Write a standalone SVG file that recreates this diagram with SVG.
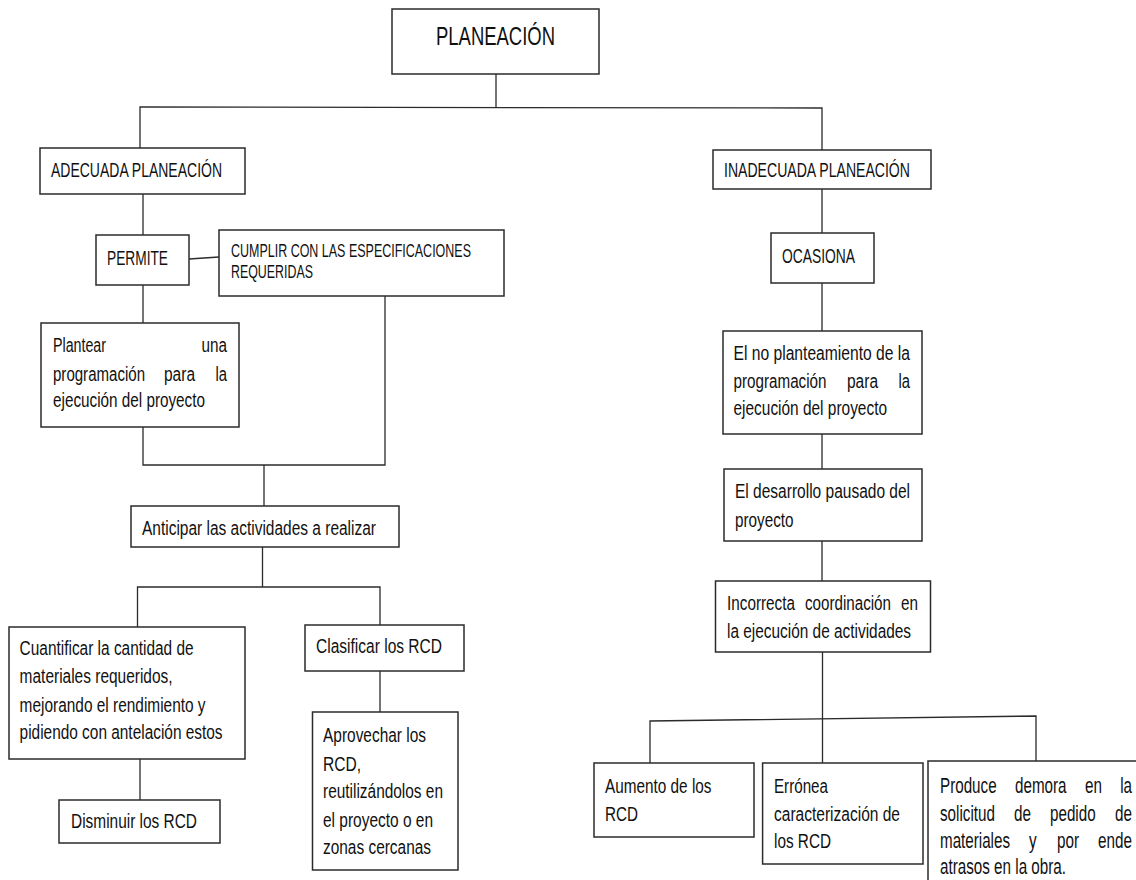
<svg xmlns="http://www.w3.org/2000/svg" width="1136" height="880" viewBox="0 0 1136 880">
<style>
.box{fill:#fff;stroke:#2b2b2b;stroke-width:1.5}
.c{fill:none;stroke:#2b2b2b;stroke-width:1.3}
text{font-family:"Liberation Sans",Arial,sans-serif;fill:#111}
.f18{font-size:18px}.f20{font-size:20px}.f21{font-size:21px}.f22{font-size:22px}.f25{font-size:25px}
</style>
<rect width="1136" height="880" fill="#fff"/>
<g id="connectors">
<path class="c" d="M496 74V108"/>
<path class="c" d="M140 148V107L822 108V150"/>
<path class="c" d="M143 194V235"/>
<path class="c" d="M189 259L219 257"/>
<path class="c" d="M143 285V323"/>
<path class="c" d="M143 427V465H385V296"/>
<path class="c" d="M264 465V506"/>
<path class="c" d="M262.5 547V587"/>
<path class="c" d="M137.5 627V587H380V625"/>
<path class="c" d="M140 759V800"/>
<path class="c" d="M380 671V712"/>
<path class="c" d="M822 189V233"/>
<path class="c" d="M822 283V331"/>
<path class="c" d="M822 434V469"/>
<path class="c" d="M822 541V581"/>
<path class="c" d="M822.5 652V763"/>
<path class="c" d="M650 763V721L1036 716V761"/>
</g>
<g id="planeacion">
<rect class="box" x="392" y="9" width="207" height="65"/>
<text class="f25" transform="translate(436 45) scale(.72 1)" textLength="165.3" lengthAdjust="spacingAndGlyphs">PLANEACIÓN</text>
</g>
<g id="adecuada">
<rect class="box" x="40" y="148" width="205" height="46"/>
<text class="f20" transform="translate(51 177) scale(.72 1)" textLength="237.5" lengthAdjust="spacingAndGlyphs">ADECUADA PLANEACIÓN</text>
</g>
<g id="permite">
<rect class="box" x="96" y="235" width="93" height="50"/>
<text class="f21" transform="translate(107 265) scale(.72 1)" textLength="84.7" lengthAdjust="spacingAndGlyphs">PERMITE</text>
</g>
<g id="cumplir">
<rect class="box" x="219" y="230" width="285" height="66"/>
<text class="f18" transform="translate(231 257) scale(.72 1)" textLength="333.3" lengthAdjust="spacingAndGlyphs">CUMPLIR CON LAS ESPECIFICACIONES</text>
<text class="f18" transform="translate(231 278) scale(.72 1)" textLength="113.9" lengthAdjust="spacingAndGlyphs">REQUERIDAS</text>
</g>
<g id="plantear">
<rect class="box" x="41" y="323" width="198" height="104"/>
<text class="f21" transform="translate(53 352) scale(.72 1)" textLength="73.6" lengthAdjust="spacingAndGlyphs">Plantear</text>
<text class="f21" transform="translate(201.5 352) scale(.72 1)" textLength="35.4" lengthAdjust="spacingAndGlyphs">una</text>
<text class="f21" transform="translate(53 381) scale(.72 1)" textLength="127.8" lengthAdjust="spacingAndGlyphs">programación</text>
<text class="f21" transform="translate(164 381) scale(.72 1)" textLength="43.1" lengthAdjust="spacingAndGlyphs">para</text>
<text class="f21" transform="translate(215.5 381) scale(.72 1)" textLength="16" lengthAdjust="spacingAndGlyphs">la</text>
<text class="f21" transform="translate(53 407) scale(.72 1)" textLength="211.1" lengthAdjust="spacingAndGlyphs">ejecución del proyecto</text>
</g>
<g id="anticipar">
<rect class="box" x="131" y="506" width="268" height="41"/>
<text class="f21" transform="translate(142 535) scale(.72 1)" textLength="325" lengthAdjust="spacingAndGlyphs">Anticipar las actividades a realizar</text>
</g>
<g id="cuantificar">
<rect class="box" x="9" y="627" width="236" height="132"/>
<text class="f21" transform="translate(19.6 655) scale(.72 1)" textLength="241.7" lengthAdjust="spacingAndGlyphs">Cuantificar la cantidad de</text>
<text class="f21" transform="translate(19.6 683) scale(.72 1)" textLength="212.5" lengthAdjust="spacingAndGlyphs">materiales requeridos,</text>
<text class="f21" transform="translate(19.6 712) scale(.72 1)" textLength="258.3" lengthAdjust="spacingAndGlyphs">mejorando el rendimiento y</text>
<text class="f21" transform="translate(19.6 739) scale(.72 1)" textLength="281.9" lengthAdjust="spacingAndGlyphs">pidiendo con antelación estos</text>
</g>
<g id="disminuir">
<rect class="box" x="59" y="800" width="161" height="43"/>
<text class="f21" transform="translate(71 828) scale(.72 1)" textLength="175" lengthAdjust="spacingAndGlyphs">Disminuir los RCD</text>
</g>
<g id="clasificar">
<rect class="box" x="305" y="625" width="159" height="46"/>
<text class="f21" transform="translate(316 653) scale(.72 1)" textLength="175" lengthAdjust="spacingAndGlyphs">Clasificar los RCD</text>
</g>
<g id="aprovechar">
<rect class="box" x="312.5" y="712" width="145.5" height="158"/>
<text class="f21" transform="translate(323 742) scale(.72 1)" textLength="143.1" lengthAdjust="spacingAndGlyphs">Aprovechar los</text>
<text class="f21" transform="translate(323 771) scale(.72 1)" textLength="52.8" lengthAdjust="spacingAndGlyphs">RCD,</text>
<text class="f21" transform="translate(323 798) scale(.72 1)" textLength="166.7" lengthAdjust="spacingAndGlyphs">reutilizándolos en</text>
<text class="f21" transform="translate(323 827) scale(.72 1)" textLength="152.8" lengthAdjust="spacingAndGlyphs">el proyecto o en</text>
<text class="f21" transform="translate(323 854) scale(.72 1)" textLength="150" lengthAdjust="spacingAndGlyphs">zonas cercanas</text>
</g>
<g id="inadecuada">
<rect class="box" x="713" y="150" width="218" height="39"/>
<text class="f20" transform="translate(724 177) scale(.72 1)" textLength="258.3" lengthAdjust="spacingAndGlyphs">INADECUADA PLANEACIÓN</text>
</g>
<g id="ocasiona">
<rect class="box" x="771" y="233" width="103" height="50"/>
<text class="f21" transform="translate(782 263) scale(.72 1)" textLength="101.4" lengthAdjust="spacingAndGlyphs">OCASIONA</text>
</g>
<g id="noplanteamiento">
<rect class="box" x="723" y="331" width="199" height="103"/>
<text class="f21" transform="translate(733.5 360) scale(.72 1)" textLength="245.1" lengthAdjust="spacingAndGlyphs">El no planteamiento de la</text>
<text class="f21" transform="translate(733.5 388) scale(.72 1)" textLength="129.2" lengthAdjust="spacingAndGlyphs">programación</text>
<text class="f21" transform="translate(847 388) scale(.72 1)" textLength="43.1" lengthAdjust="spacingAndGlyphs">para</text>
<text class="f21" transform="translate(898.5 388) scale(.72 1)" textLength="16" lengthAdjust="spacingAndGlyphs">la</text>
<text class="f21" transform="translate(733.5 415) scale(.72 1)" textLength="213.2" lengthAdjust="spacingAndGlyphs">ejecución del proyecto</text>
</g>
<g id="desarrollo">
<rect class="box" x="724" y="469" width="198" height="72"/>
<text class="f21" transform="translate(735 498) scale(.72 1)" textLength="243.1" lengthAdjust="spacingAndGlyphs">El desarrollo pausado del</text>
<text class="f21" transform="translate(735 527) scale(.72 1)" textLength="81.25" lengthAdjust="spacingAndGlyphs">proyecto</text>
</g>
<g id="incorrecta">
<rect class="box" x="715.5" y="581" width="215" height="71"/>
<text class="f21" transform="translate(727 610) scale(.72 1)" textLength="94.4" lengthAdjust="spacingAndGlyphs">Incorrecta</text>
<text class="f21" transform="translate(805 610) scale(.72 1)" textLength="119.4" lengthAdjust="spacingAndGlyphs">coordinación</text>
<text class="f21" transform="translate(901 610) scale(.72 1)" textLength="23.6" lengthAdjust="spacingAndGlyphs">en</text>
<text class="f21" transform="translate(727 638) scale(.72 1)" textLength="255.6" lengthAdjust="spacingAndGlyphs">la ejecución de actividades</text>
</g>
<g id="aumento">
<rect class="box" x="594" y="763" width="160" height="74"/>
<text class="f21" transform="translate(605 793) scale(.72 1)" textLength="147.9" lengthAdjust="spacingAndGlyphs">Aumento de los</text>
<text class="f21" transform="translate(605 821) scale(.72 1)" textLength="45.8" lengthAdjust="spacingAndGlyphs">RCD</text>
</g>
<g id="erronea">
<rect class="box" x="762.6" y="763" width="160.4" height="101"/>
<text class="f21" transform="translate(774 793) scale(.72 1)" textLength="75" lengthAdjust="spacingAndGlyphs">Errónea</text>
<text class="f21" transform="translate(774 821) scale(.72 1)" textLength="175" lengthAdjust="spacingAndGlyphs">caracterización de</text>
<text class="f21" transform="translate(774 848) scale(.72 1)" textLength="79.2" lengthAdjust="spacingAndGlyphs">los RCD</text>
</g>
<g id="produce">
<rect class="box" x="928" y="761" width="215" height="130"/>
<text class="f22" transform="translate(940 793) scale(.72 1)" textLength="78.6" lengthAdjust="spacingAndGlyphs">Produce</text>
<text class="f22" transform="translate(1015 793) scale(.72 1)" textLength="71.5" lengthAdjust="spacingAndGlyphs">demora</text>
<text class="f22" transform="translate(1085 793) scale(.72 1)" textLength="23.6" lengthAdjust="spacingAndGlyphs">en</text>
<text class="f22" transform="translate(1120.2 793) scale(.72 1)" textLength="16.4" lengthAdjust="spacingAndGlyphs">la</text>
<text class="f22" transform="translate(940 821) scale(.72 1)" textLength="76.4" lengthAdjust="spacingAndGlyphs">solicitud</text>
<text class="f22" transform="translate(1014 821) scale(.72 1)" textLength="23.6" lengthAdjust="spacingAndGlyphs">de</text>
<text class="f22" transform="translate(1050 821) scale(.72 1)" textLength="63.3" lengthAdjust="spacingAndGlyphs">pedido</text>
<text class="f22" transform="translate(1115 821) scale(.72 1)" textLength="23.6" lengthAdjust="spacingAndGlyphs">de</text>
<text class="f22" transform="translate(940 848) scale(.72 1)" textLength="97.2" lengthAdjust="spacingAndGlyphs">materiales</text>
<text class="f22" transform="translate(1029 848) scale(.72 1)" textLength="10.6" lengthAdjust="spacingAndGlyphs">y</text>
<text class="f22" transform="translate(1057 848) scale(.72 1)" textLength="30.6" lengthAdjust="spacingAndGlyphs">por</text>
<text class="f22" transform="translate(1098 848) scale(.72 1)" textLength="47.2" lengthAdjust="spacingAndGlyphs">ende</text>
<text class="f22" transform="translate(940 874) scale(.72 1)" textLength="175" lengthAdjust="spacingAndGlyphs">atrasos en la obra.</text>
</g>
</svg>
